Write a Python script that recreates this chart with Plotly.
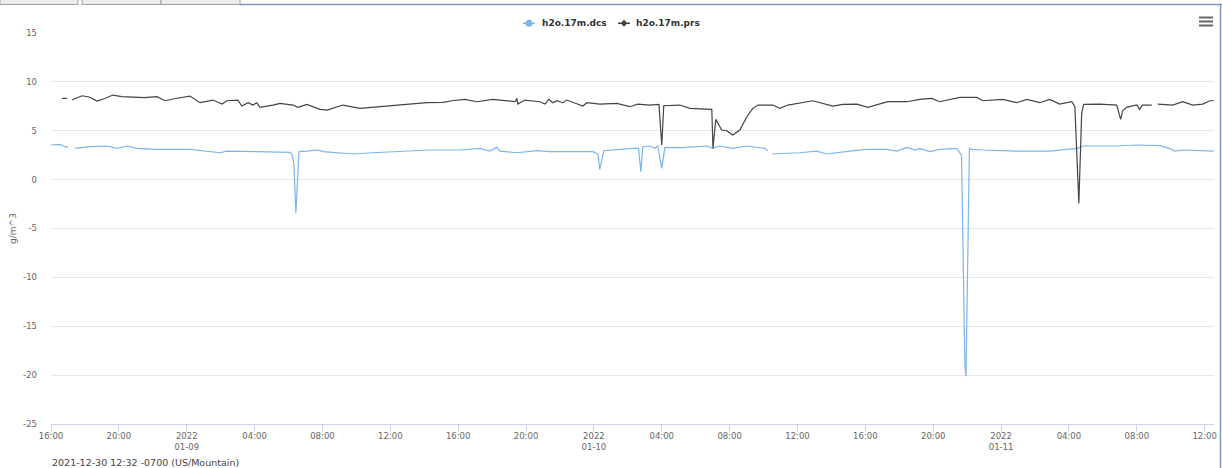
import plotly.graph_objects as go

# ---------------- data ----------------
dcs_time = [
    "2022-01-08 16:00", "2022-01-08 16:32", "2022-01-08 16:50", "2022-01-08 17:00", "2022-01-08 17:12",
    "2022-01-08 17:25", "2022-01-08 18:18", "2022-01-08 19:18", "2022-01-08 19:53", "2022-01-08 20:29",
    "2022-01-08 21:04", "2022-01-08 22:15", "2022-01-09 00:11", "2022-01-09 01:58", "2022-01-09 02:22",
    "2022-01-09 04:08", "2022-01-09 06:05", "2022-01-09 06:12", "2022-01-09 06:19", "2022-01-09 06:26",
    "2022-01-09 06:37", "2022-01-09 07:05", "2022-01-09 07:44", "2022-01-09 08:02", "2022-01-09 09:48",
    "2022-01-09 10:58", "2022-01-09 12:59", "2022-01-09 14:20", "2022-01-09 16:06", "2022-01-09 17:17",
    "2022-01-09 17:52", "2022-01-09 18:17", "2022-01-09 18:28", "2022-01-09 19:28", "2022-01-09 20:38",
    "2022-01-09 21:24", "2022-01-09 23:56", "2022-01-10 00:14", "2022-01-10 00:21", "2022-01-10 00:35",
    "2022-01-10 02:18", "2022-01-10 02:38", "2022-01-10 02:46", "2022-01-10 02:53", "2022-01-10 03:18",
    "2022-01-10 03:35", "2022-01-10 03:46", "2022-01-10 04:00", "2022-01-10 04:11", "2022-01-10 05:14",
    "2022-01-10 06:39", "2022-01-10 07:00", "2022-01-10 07:25", "2022-01-10 08:11", "2022-01-10 09:01",
    "2022-01-10 10:04", "2022-01-10 10:15", "2022-01-10 10:22", "2022-01-10 10:29", "2022-01-10 12:08",
    "2022-01-10 13:08", "2022-01-10 13:44", "2022-01-10 15:05", "2022-01-10 16:05", "2022-01-10 17:16",
    "2022-01-10 17:51", "2022-01-10 18:27", "2022-01-10 18:55", "2022-01-10 19:12", "2022-01-10 19:48",
    "2022-01-10 20:23", "2022-01-10 21:23", "2022-01-10 21:40", "2022-01-10 21:52", "2022-01-10 21:56",
    "2022-01-10 22:03", "2022-01-10 22:08", "2022-01-10 22:16", "2022-01-10 22:55", "2022-01-11 00:55",
    "2022-01-11 02:52", "2022-01-11 03:52", "2022-01-11 04:31", "2022-01-11 04:49", "2022-01-11 06:49",
    "2022-01-11 08:00", "2022-01-11 09:21", "2022-01-11 09:56", "2022-01-11 10:14", "2022-01-11 10:42",
    "2022-01-11 11:53", "2022-01-11 12:32",
]
dcs_value = [
    3.54, 3.60, 3.37, 3.30, None,
    3.20, 3.37, 3.44, 3.20, 3.44,
    3.20, 3.10, 3.10, 2.75, 2.92,
    2.86, 2.79, 2.60, 1.66, -3.42,
    2.86, 2.92, 3.03, 2.86, 2.62,
    2.75, 2.92, 3.03, 3.03, 3.20,
    2.92, 3.30, 2.92, 2.75, 2.96,
    2.86, 2.86, 2.60, 1.05, 2.96,
    3.20, 3.20, 0.81, 3.37, 3.44,
    3.20, 3.44, 1.15, 3.30, 3.27,
    3.44, 3.20, 3.44, 3.20, 3.44,
    3.20, 2.96, None, 2.62, 2.75,
    2.92, 2.62, 2.92, 3.10, 3.10,
    2.92, 3.30, 3.03, 3.20, 2.86,
    3.10, 3.20, 2.50, -19.0, -20.1,
    -5.0, 3.20, 3.10, 3.03, 2.92,
    2.92, 3.10, 3.20, 3.44, 3.44,
    3.54, 3.47, 3.20, 2.92, 3.03,
    2.92, 2.92,
]

prs_time = [
    "2022-01-08 16:39", "2022-01-08 16:57", "2022-01-08 17:05", "2022-01-08 17:14", "2022-01-08 17:50",
    "2022-01-08 18:15", "2022-01-08 18:43", "2022-01-08 19:10", "2022-01-08 19:39", "2022-01-08 20:10",
    "2022-01-08 20:50", "2022-01-08 21:30", "2022-01-08 22:15", "2022-01-08 22:43", "2022-01-08 23:20",
    "2022-01-09 00:11", "2022-01-09 00:47", "2022-01-09 01:10", "2022-01-09 01:33", "2022-01-09 02:05",
    "2022-01-09 02:22", "2022-01-09 03:01", "2022-01-09 03:15", "2022-01-09 03:37", "2022-01-09 03:54",
    "2022-01-09 04:08", "2022-01-09 04:19", "2022-01-09 05:05", "2022-01-09 05:30", "2022-01-09 06:16",
    "2022-01-09 06:33", "2022-01-09 07:05", "2022-01-09 07:51", "2022-01-09 08:16", "2022-01-09 09:12",
    "2022-01-09 10:13", "2022-01-09 10:58", "2022-01-09 11:45", "2022-01-09 12:34", "2022-01-09 13:55",
    "2022-01-09 14:09", "2022-01-09 15:06", "2022-01-09 15:38", "2022-01-09 16:24", "2022-01-09 17:06",
    "2022-01-09 18:03", "2022-01-09 18:52", "2022-01-09 19:21", "2022-01-09 19:28", "2022-01-09 19:31",
    "2022-01-09 19:56", "2022-01-09 20:49", "2022-01-09 21:07", "2022-01-09 21:21", "2022-01-09 21:35",
    "2022-01-09 21:49", "2022-01-09 22:10", "2022-01-09 22:24", "2022-01-09 23:21", "2022-01-09 23:35",
    "2022-01-10 00:21", "2022-01-10 01:21", "2022-01-10 02:07", "2022-01-10 02:35", "2022-01-10 03:18",
    "2022-01-10 03:50", "2022-01-10 04:00", "2022-01-10 04:07", "2022-01-10 05:04", "2022-01-10 05:39",
    "2022-01-10 06:57", "2022-01-10 07:01", "2022-01-10 07:11", "2022-01-10 07:32", "2022-01-10 07:50",
    "2022-01-10 08:11", "2022-01-10 08:36", "2022-01-10 09:01", "2022-01-10 09:22", "2022-01-10 09:40",
    "2022-01-10 10:33", "2022-01-10 10:57", "2022-01-10 11:26", "2022-01-10 12:08", "2022-01-10 12:54",
    "2022-01-10 14:05", "2022-01-10 14:40", "2022-01-10 15:30", "2022-01-10 16:09", "2022-01-10 17:19",
    "2022-01-10 18:27", "2022-01-10 19:12", "2022-01-10 19:55", "2022-01-10 20:23", "2022-01-10 21:34",
    "2022-01-10 22:34", "2022-01-10 22:55", "2022-01-11 00:06", "2022-01-11 00:55", "2022-01-11 01:31",
    "2022-01-11 02:17", "2022-01-11 02:52", "2022-01-11 03:27", "2022-01-11 04:10", "2022-01-11 04:21",
    "2022-01-11 04:35", "2022-01-11 04:45", "2022-01-11 04:52", "2022-01-11 05:49", "2022-01-11 06:49",
    "2022-01-11 07:03", "2022-01-11 07:10", "2022-01-11 07:24", "2022-01-11 08:00", "2022-01-11 08:10",
    "2022-01-11 08:20", "2022-01-11 08:53", "2022-01-11 09:03", "2022-01-11 09:14", "2022-01-11 10:07",
    "2022-01-11 10:42", "2022-01-11 11:18", "2022-01-11 11:53", "2022-01-11 12:18", "2022-01-11 12:32",
]
prs_value = [
    8.31, 8.31, None, 8.14, 8.58,
    8.45, 8.04, 8.30, 8.65, 8.50,
    8.41, 8.38, 8.48, 8.07, 8.30,
    8.55, 7.87, 8.00, 8.14, 7.73,
    8.07, 8.14, 7.53, 7.87, 7.63,
    7.87, 7.39, 7.63, 7.80, 7.63,
    7.39, 7.70, 7.19, 7.12, 7.63,
    7.29, 7.39, 7.50, 7.63, 7.80,
    7.87, 7.90, 8.07, 8.21, 7.97,
    8.21, 8.07, 7.97, 8.31, 7.73,
    8.14, 7.97, 7.73, 8.21, 7.87,
    8.07, 7.87, 8.14, 7.53, 7.87,
    7.73, 7.80, 7.46, 7.73, 7.63,
    7.70, 3.54, 7.56, 7.63, 7.29,
    7.19, 3.20, 6.16, 5.07, 5.00,
    4.56, 5.08, 6.43, 7.29, 7.63,
    7.63, 7.29, 7.63, 7.87, 8.07,
    7.53, 7.70, 7.73, 7.39, 7.97,
    7.97, 8.21, 8.31, 7.97, 8.41,
    8.41, 8.07, 8.21, 7.87, 8.21,
    7.87, 8.21, 7.73, 7.97, 7.46,
    -2.43, 6.78, 7.70, 7.73, 7.63,
    6.16, 7.05, 7.39, 7.63, 7.19,
    7.63, 7.63, None, 7.73, 7.63,
    7.97, 7.63, 7.73, 8.07, 8.07,
]

assert len(dcs_time) == len(dcs_value)
assert len(prs_time) == len(prs_value)

series_names = ["h2o.17m.dcs", "h2o.17m.prs"]

x_tick_vals = [
    "2022-01-08 16:00", "2022-01-08 20:00", "2022-01-09 00:00", "2022-01-09 04:00", "2022-01-09 08:00",
    "2022-01-09 12:00", "2022-01-09 16:00", "2022-01-09 20:00", "2022-01-10 00:00", "2022-01-10 04:00",
    "2022-01-10 08:00", "2022-01-10 12:00", "2022-01-10 16:00", "2022-01-10 20:00", "2022-01-11 00:00",
    "2022-01-11 04:00", "2022-01-11 08:00", "2022-01-11 12:00",
]
x_tick_text = [
    "16:00", "20:00", "2022<br>01-09", "04:00", "08:00",
    "12:00", "16:00", "20:00", "2022<br>01-10", "04:00",
    "08:00", "12:00", "16:00", "20:00", "2022<br>01-11",
    "04:00", "08:00", "12:00",
]
x_range = ["2022-01-08 16:00", "2022-01-11 12:33"]

y_tick_vals = [15, 10, 5, 0, -5, -10, -15, -20, -25]
y_tick_text = ["15", "10", "5", "0", "-5", "-10", "-15", "-20", "-25"]
y_title = "g/m^3"
footnote = "2021-12-30 12:32 -0700 (US/Mountain)"

# ---------------- layout geometry ----------------
W, H = 1222, 468
L, R, T, B = 51, 1214, 33, 424
FONT = "DejaVu Sans"
BLUE = "#7cb5ec"
DARK = "#434348"
FRAME = "#7d97bd"


def px(x):
    return (x - L) / (R - L)


def py(y):
    return (B - y) / (B - T)


fig = go.Figure()
fig.add_trace(go.Scatter(x=dcs_time, y=dcs_value, name=series_names[0], mode="lines",
                         line=dict(color=BLUE, width=1.2), connectgaps=False, showlegend=False))
fig.add_trace(go.Scatter(x=prs_time, y=prs_value, name=series_names[1], mode="lines",
                         line=dict(color=DARK, width=1.2), connectgaps=False, showlegend=False))

shapes = []
annotations = []

# legend (drawn manually to mimic the compact original symbols)
leg_y = 23.3
shapes.append(dict(type="line", xref="paper", yref="paper", x0=px(523), x1=px(535), y0=py(leg_y), y1=py(leg_y),
                   line=dict(color=BLUE, width=1.5)))
shapes.append(dict(type="circle", xref="paper", yref="paper", x0=px(525.5), x1=px(532.5),
                   y0=py(leg_y + 3.5), y1=py(leg_y - 3.5), fillcolor=BLUE, line=dict(color=BLUE, width=0)))
annotations.append(dict(text="<b>%s</b>" % series_names[0], xref="paper", yref="paper", x=px(540), y=py(leg_y),
                        xanchor="left", yanchor="middle", showarrow=False,
                        font=dict(family=FONT, size=9, color="#333333")))
shapes.append(dict(type="line", xref="paper", yref="paper", x0=px(618), x1=px(630), y0=py(leg_y), y1=py(leg_y),
                   line=dict(color=DARK, width=1.5)))
cx, cy, d = 624, leg_y, 3.5
shapes.append(dict(type="path", xref="paper", yref="paper",
                   path="M %f,%f L %f,%f L %f,%f L %f,%f Z" % (px(cx - d), py(cy), px(cx), py(cy - d),
                                                               px(cx + d), py(cy), px(cx), py(cy + d)),
                   fillcolor=DARK, line=dict(color=DARK, width=0)))
annotations.append(dict(text="<b>%s</b>" % series_names[1], xref="paper", yref="paper", x=px(634), y=py(leg_y),
                        xanchor="left", yanchor="middle", showarrow=False,
                        font=dict(family=FONT, size=9, color="#333333")))

# hamburger menu icon
for yy in (17.5, 21.5, 25.5):
    shapes.append(dict(type="line", xref="paper", yref="paper", x0=px(1199), x1=px(1213), y0=py(yy), y1=py(yy),
                       line=dict(color="#666666", width=2)))

# surrounding page frame: tabs at top-left, border lines
for (a, b) in ((0, 78), (82, 161), (161, 240)):
    shapes.append(dict(type="rect", xref="paper", yref="paper", x0=px(a), x1=px(b), y0=py(4.5), y1=py(-3),
                       fillcolor="#ececec", line=dict(color="#a0a0a0", width=1)))
shapes.append(dict(type="line", xref="paper", yref="paper", x0=px(240), x1=px(1222), y0=py(4.5), y1=py(4.5),
                   line=dict(color=FRAME, width=1.5)))
shapes.append(dict(type="line", xref="paper", yref="paper", x0=px(1220.5), x1=px(1220.5), y0=py(4.5), y1=py(470),
                   line=dict(color=FRAME, width=1.5)))

# footnote
annotations.append(dict(text=footnote, xref="paper", yref="paper", x=px(50), y=py(462.5),
                        xanchor="left", yanchor="middle", showarrow=False,
                        font=dict(family=FONT, size=9.5, color="#444444")))

fig.update_layout(
    width=W, height=H, autosize=False,
    margin=dict(l=L, r=W - R, t=T, b=H - B, pad=0),
    paper_bgcolor="white", plot_bgcolor="white",
    font=dict(family=FONT, size=9, color="#666666"),
    showlegend=False,
    shapes=shapes, annotations=annotations,
    xaxis=dict(type="date", range=x_range, showgrid=False, zeroline=False,
               showline=True, linecolor="#ccd6eb", linewidth=1,
               ticks="outside", ticklen=7, tickcolor="#ccd6eb", tickwidth=1,
               tickvals=x_tick_vals, ticktext=x_tick_text, ticklabelstandoff=-3,
               tickfont=dict(family=FONT, size=8.5, color="#666666"), automargin=False),
    yaxis=dict(range=[-25, 15], showgrid=True, gridcolor="#e6e6e6", gridwidth=1,
               zeroline=False, showline=False,
               tickvals=y_tick_vals, ticktext=y_tick_text,
               tickfont=dict(family=FONT, size=8.5, color="#666666"),
               ticklabelstandoff=13,
               title=dict(text=y_title, font=dict(family=FONT, size=9, color="#666666"), standoff=4),
               automargin=False),
)

fig.write_html("out.html", config={"displayModeBar": False},
               post_script="document.body.style.margin='0';document.body.style.overflow='hidden';")
